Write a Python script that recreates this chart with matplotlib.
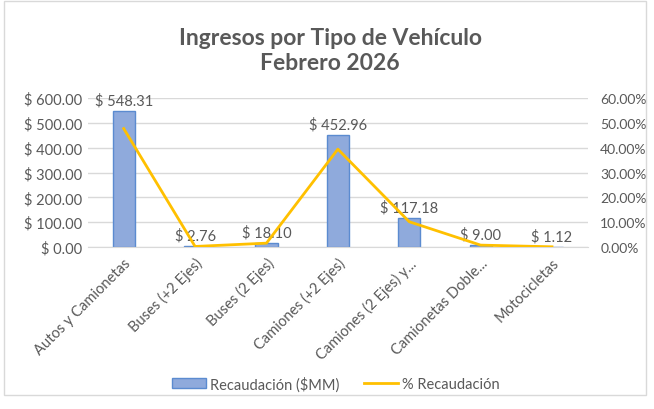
import matplotlib.pyplot as plt
import matplotlib.patches as mpatches
from matplotlib.lines import Line2D
from matplotlib.ticker import FuncFormatter

# datos
categorias = ['Autos y Camionetas', 'Buses (+2 Ejes)', 'Buses (2 Ejes)', 'Camiones (+2 Ejes)',
              'Camiones (2 Ejes) y...', 'Camionetas Doble...', 'Motocicletas']
recaudacion = [548.31, 2.76, 18.10, 452.96, 117.18, 9.00, 1.12]
porcentaje = [47.70, 0.24, 1.57, 39.41, 10.19, 0.78, 0.10]

gris = '#595959'
plt.rcParams['font.family'] = ['Lato', 'DejaVu Sans']

fig = plt.figure(figsize=(6.54, 4.10), dpi=100)
ax = fig.add_axes([0.1346, 0.395, 0.764, 0.3635])
ax2 = ax.twinx()

x = list(range(len(categorias)))
ax.bar(x, recaudacion, width=0.31, color='#8FAADC', edgecolor='#5B8BD0', linewidth=1, zorder=2)
ax2.plot(x, porcentaje, color='#FFC000', linewidth=2, zorder=3)

# etiquetas de datos
for i, v in enumerate(recaudacion):
    ax.text(i, v + 14, f'$ {v:.2f}', ha='center', va='bottom', fontsize=10.5, color=gris)

ax.set_ylim(0, 600)
ax2.set_ylim(0, 60)
ax.set_xlim(-0.5, len(categorias) - 0.5)
ax.set_yticks(range(0, 601, 100))
ax2.set_yticks(range(0, 61, 10))
ax.yaxis.set_major_formatter(FuncFormatter(lambda v, p: f'$ {v:.2f}'))
ax2.yaxis.set_major_formatter(FuncFormatter(lambda v, p: f'{v:.2f}%'))

ax.set_xticks(x)
ax.set_xticklabels(categorias, rotation=45, ha='right', rotation_mode='anchor')
ax.grid(axis='y', color='#D9D9D9', linewidth=1, zorder=0)
ax.set_axisbelow(True)

for a in (ax, ax2):
    for s in a.spines.values():
        s.set_visible(False)
    a.tick_params(length=0, labelsize=10.5, labelcolor=gris)
ax.spines['bottom'].set_visible(True)
ax.spines['bottom'].set_color('#D9D9D9')
ax.tick_params(axis='y', pad=4)
ax.tick_params(axis='x', pad=6)
ax2.tick_params(axis='y', pad=9, labelsize=10)

fig.text(0.505, 0.875, 'Ingresos por Tipo de Vehículo\nFebrero 2026', ha='center', va='center',
         fontsize=16.5, fontweight='bold', color=gris, linespacing=1.25)

h1 = mpatches.Patch(facecolor='#8FAADC', edgecolor='#5B8BD0', label='Recaudación ($MM)')
h2 = Line2D([], [], color='#FFC000', linewidth=2, label='% Recaudación')
leg = fig.legend(handles=[h1, h2], loc='center', bbox_to_anchor=(0.514, 0.062), ncol=2, frameon=False,
                 fontsize=10.5, handlelength=2.3, columnspacing=1.7, handletextpad=0.3)
for t in leg.get_texts():
    t.set_color(gris)

# borde del grafico
fig.patches.append(mpatches.Rectangle((0.006, 0.035), 0.982, 0.96, transform=fig.transFigure,
                                      fill=False, edgecolor='#D9D9D9', linewidth=1))

fig.savefig('out.png', dpi=100)
